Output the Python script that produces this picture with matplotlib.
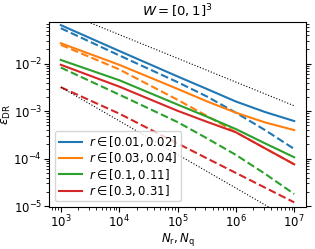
import matplotlib
matplotlib.use('Agg')
import matplotlib.pyplot as plt

N = [1e3, 1e4, 1e5, 10**5.5, 1e6, 10**6.5, 1e7]

labels = [r'$r \in [0.01, 0.02]$', r'$r \in [0.03, 0.04]$',
          r'$r \in [0.1, 0.11]$', r'$r \in [0.3, 0.31]$']
colors = ['C0', 'C1', 'C2', 'C3']

# solid lines
err_solid = [
    [0.065, 0.0186, 5.4e-3, 2.95e-3, 1.6e-3, 9.6e-4, 6.2e-4],
    [0.027, 9.5e-3, 2.95e-3, 1.62e-3, 9.3e-4, 5.8e-4, 4.0e-4],
    [0.012, 4.5e-3, 1.38e-3, 7.7e-4, 4.2e-4, 2.1e-4, 1.07e-4],
    [9.5e-3, 3.3e-3, 1.02e-3, 6.0e-4, 3.6e-4, 1.65e-4, 7.6e-5],
]
# dashed lines
err_dashed = [
    [0.056, 0.015, 4.1e-3, 2.05e-3, 9.3e-4, 4.0e-4, 1.6e-4],
    [0.025, 7.6e-3, 1.74e-3, 8.0e-4, 3.6e-4, 1.65e-4, 7.6e-5],
    [8.3e-3, 2.24e-3, 5.9e-4, 2.7e-4, 1.2e-4, 4.8e-5, 1.8e-5],
    [3.2e-3, 8.9e-4, 2.1e-4, 1.02e-4, 5.0e-5, 2.45e-5, 1.2e-5],
]

# reference lines
ref_N = [1e3, 1e7]
ref_upper = [0.13, 1.3e-3]
ref_lower = [3.2e-3, 4.7e-6]

fig = plt.figure(figsize=(3.15, 2.49), dpi=100)
ax = fig.add_axes([0.156, 0.168, 0.815, 0.744])

for i in range(4):
    ax.plot(N, err_solid[i], color=colors[i], lw=1.5, label=labels[i])
    ax.plot(N, err_dashed[i], color=colors[i], lw=1.5, ls='--')

ax.plot(ref_N, ref_upper, 'k:', lw=0.8)
ax.plot(ref_N, ref_lower, 'k:', lw=0.8)

ax.set_xscale('log')
ax.set_yscale('log')
ax.set_ylim(9.5e-6, 0.076)
ax.tick_params(labelsize=8.5, right=True, which='both', pad=1.5)
ax.set_xlabel(r'$N_{\rm r}, N_{\rm q}$', fontsize=8.5, labelpad=0)
ax.set_ylabel(r'$\varepsilon_{\rm DR}$', fontsize=9, labelpad=0)
ax.set_title(r'$W = [0, 1]^3$', fontsize=9.5, pad=4)
ax.legend(loc='lower left', fontsize=8.5, handlelength=2, labelspacing=0.1,
          handletextpad=0.6, borderpad=0.3)

fig.savefig('out.png', dpi=100)
